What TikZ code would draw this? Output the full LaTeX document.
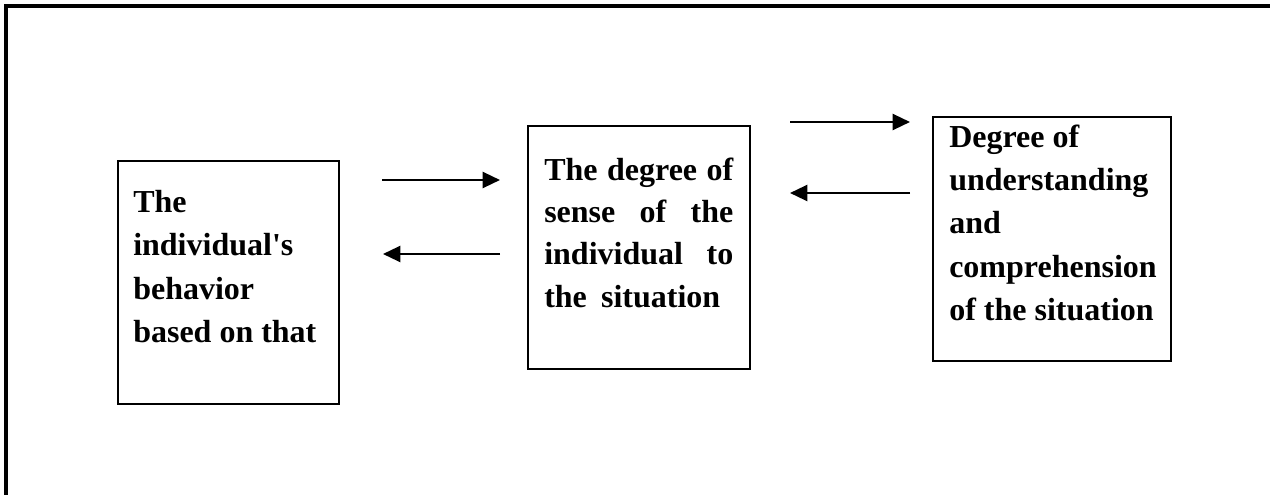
\documentclass[tikz,border=0pt]{standalone}
\usepackage{fontspec}
\setmainfont{Liberation Serif}
\newfontfamily\qfont{Liberation Serif}
\usetikzlibrary{arrows.meta}
\begin{document}
\begin{tikzpicture}[x=0.75pt,y=-0.75pt,
  box/.style={draw, line width=1.6pt, inner sep=0pt},
  txt/.style={anchor=base west, inner sep=0pt, font=\fontsize{24}{29}\selectfont\bfseries},
  arr/.style={line width=1.7pt, -{Triangle[length=13pt,width=12pt]}},
  frame/.style={line width=2.3pt}]
\useasboundingbox (0,0) rectangle (1270,495);
% outer frame (top and left only)
\coordinate (f1) at (6,495);
\coordinate (f2) at (6,6);
\coordinate (f3) at (1270,6);
\draw[frame] (f1) -- (f2) -- (f3);
% boxes
\node[box, minimum width=165.75pt, minimum height=182.25pt] (b1) at (228.5,282.5) {};
\node[box, minimum width=166.5pt, minimum height=182.25pt] (b2) at (639,247.5) {};
\node[box, minimum width=178.5pt, minimum height=183pt] (b3) at (1052,239) {};
% box 1 text
\node[txt] (t1a) at (133,213) {The};
\node[txt] (t1b) at (133,256) {individual{\qfont\bfseries '}s};
\node[txt] (t1c) at (133,299) {behavior};
\node[txt] (t1d) at (133,342) {based on that};
% box 2 text
\node[txt] (t2a) at (544,181) {\makebox[141.75pt][s]{The degree of}};
\node[txt] (t2b) at (544,223) {\makebox[141.75pt][s]{sense of the}};
\node[txt] (t2c) at (544,265) {\makebox[141.75pt][s]{individual to}};
\node[txt] (t2d) at (544,307) {\makebox[132pt][s]{the situation}};
% box 3 text
\node[txt] (t3a) at (949,148) {Degree of};
\node[txt] (t3b) at (949,191) {understanding};
\node[txt] (t3c) at (949,234) {and};
\node[txt] (t3d) at (949,277) {comprehension};
\node[txt] (t3e) at (949,320) {of the situation};
% arrows
\coordinate (a1s) at (382,180); \coordinate (a1e) at (500,180);
\coordinate (a2s) at (500,254); \coordinate (a2e) at (383,254);
\coordinate (a3s) at (790,122); \coordinate (a3e) at (910,122);
\coordinate (a4s) at (910,193); \coordinate (a4e) at (790,193);
\draw[arr] (a1s) -- (a1e);
\draw[arr] (a2s) -- (a2e);
\draw[arr] (a3s) -- (a3e);
\draw[arr] (a4s) -- (a4e);
\end{tikzpicture}
\end{document}
